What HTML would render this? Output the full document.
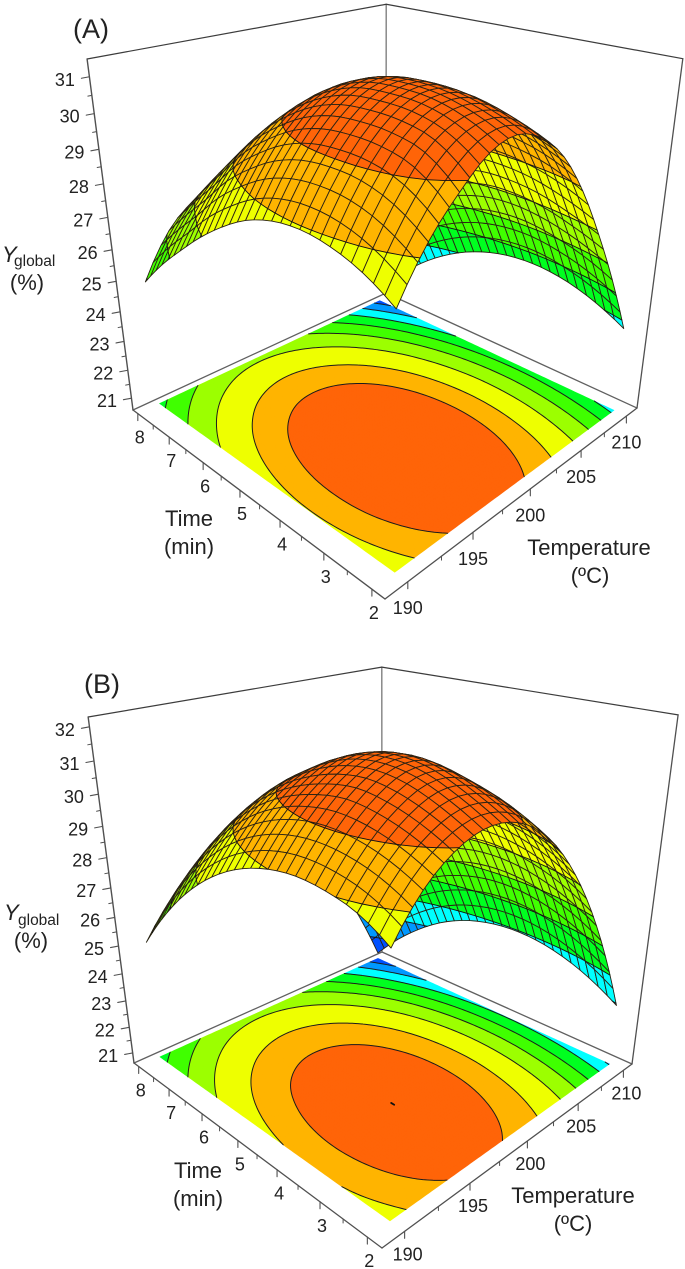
<!DOCTYPE html>
<html>
<head>
<meta charset="utf-8">
<title>Response surfaces of Yglobal versus time and temperature</title>
<style>
html,body{margin:0;padding:0;background:#fff;}
svg{display:block;}
text{font-family:"Liberation Sans",sans-serif;fill:#222;}
.axis-title{font-size:22px;}
.panel-letter{font-size:27px;}
.tick-label{font-size:18px;}
</style>
</head>
<body>
<svg id="chart" xmlns="http://www.w3.org/2000/svg" width="685" height="1269" viewBox="0 0 685 1269">
  <rect width="685" height="1269" fill="#fff"/>
  <g id="panel-a"></g>
  <g id="panel-b"></g>

  <text class="panel-letter" x="91" y="38" text-anchor="middle">(A)</text>
  <text class="axis-title" x="2" y="262" font-style="italic">Y</text>
  <text x="14" y="266" font-size="15.5">global</text>
  <text class="axis-title" x="27" y="290" text-anchor="middle">(%)</text>
  <text class="axis-title" x="189" y="526" text-anchor="middle">Time</text>
  <text class="axis-title" x="189" y="554" text-anchor="middle">(min)</text>
  <text class="axis-title" x="589" y="555" text-anchor="middle">Temperature</text>
  <text class="axis-title" x="590" y="583" text-anchor="middle">(ºC)</text>

  <text class="panel-letter" x="102" y="693" text-anchor="middle">(B)</text>
  <text class="axis-title" x="4" y="920" font-style="italic">Y</text>
  <text x="18" y="925" font-size="15.5">global</text>
  <text class="axis-title" x="31" y="948" text-anchor="middle">(%)</text>
  <text class="axis-title" x="198" y="1178" text-anchor="middle">Time</text>
  <text class="axis-title" x="198" y="1206" text-anchor="middle">(min)</text>
  <text class="axis-title" x="573" y="1203" text-anchor="middle">Temperature</text>
  <text class="axis-title" x="573" y="1231" text-anchor="middle">(ºC)</text>
</svg>
<script>
// Data
const timeValues = [2, 2.6, 3.2, 3.8, 4.4, 5, 5.6, 6.2, 6.8, 7.4, 8];
const temperatureValues = [190, 192, 194, 196, 198, 200, 202, 204, 206, 208, 210];

// rows: time, columns: temperature. Heights of the mesh in panel A.
const surfaceGridA = [
  [27.80, 29.04, 29.90, 30.55, 30.75, 30.45, 29.75, 28.60, 27.10, 25.40, 23.45],
  [28.30, 29.60, 30.55, 31.02, 31.10, 30.80, 30.10, 29.00, 27.45, 25.82, 23.93],
  [28.58, 29.88, 30.77, 31.25, 31.32, 31.02, 30.32, 29.22, 27.72, 26.10, 24.25],
  [28.68, 29.94, 30.81, 31.29, 31.39, 31.08, 30.39, 29.32, 27.84, 26.26, 24.41],
  [28.58, 29.85, 30.73, 31.23, 31.33, 31.03, 30.35, 29.28, 27.83, 26.25, 24.41],
  [28.29, 29.57, 30.46, 30.96, 31.07, 30.79, 30.12, 29.06, 27.61, 26.08, 24.25],
  [27.80, 29.10, 30.00, 30.50, 30.62, 30.35, 29.69, 28.65, 27.25, 25.75, 23.93],
  [27.19, 28.50, 29.40, 29.85, 29.97, 29.72, 29.07, 28.02, 26.76, 25.26, 23.45],
  [26.47, 27.70, 28.60, 29.05, 29.15, 28.89, 28.24, 27.27, 26.10, 24.62, 22.81],
  [25.70, 26.95, 27.75, 28.15, 28.20, 27.87, 27.28, 26.44, 25.29, 23.81, 22.01],
  [24.80, 26.15, 26.85, 27.20, 27.20, 26.90, 26.29, 25.46, 24.31, 22.84, 21.05]
];
// Values behind the contour map on the floor of panel A.
const floorGridA = [
  [27.75, 28.76, 29.45, 29.82, 29.87, 29.60, 29.01, 28.10, 26.87, 25.32, 23.45],
  [28.15, 29.17, 29.87, 30.24, 30.30, 30.04, 29.46, 28.56, 27.33, 25.79, 23.93],
  [28.39, 29.42, 30.12, 30.51, 30.57, 30.32, 29.75, 28.85, 27.64, 26.10, 24.25],
  [28.47, 29.50, 30.22, 30.61, 30.69, 30.44, 29.87, 28.99, 27.78, 26.26, 24.41],
  [28.39, 29.43, 30.15, 30.56, 30.64, 30.40, 29.84, 28.96, 27.77, 26.25, 24.41],
  [28.15, 29.20, 29.93, 30.34, 30.43, 30.20, 29.65, 28.78, 27.59, 26.08, 24.25],
  [27.75, 28.81, 29.55, 29.96, 30.06, 29.84, 29.30, 28.44, 27.25, 25.75, 23.93],
  [27.19, 28.26, 29.00, 29.43, 29.53, 29.32, 28.79, 27.93, 26.76, 25.26, 23.45],
  [26.47, 27.54, 28.30, 28.73, 28.85, 28.64, 28.11, 27.27, 26.10, 24.62, 22.81],
  [25.59, 26.67, 27.43, 27.88, 28.00, 27.80, 27.28, 26.44, 25.29, 23.81, 22.01],
  [24.55, 25.64, 26.41, 26.86, 26.99, 26.80, 26.29, 25.46, 24.31, 22.84, 21.05]
];
// Panel B: mesh and floor map share one table.
const yieldGridB = [
  [28.60, 29.71, 30.36, 30.66, 30.60, 30.19, 29.43, 28.31, 26.85, 25.03, 22.85],
  [29.12, 30.14, 30.81, 31.15, 31.10, 30.69, 29.95, 28.85, 27.40, 25.60, 23.44],
  [29.35, 30.39, 31.10, 31.51, 31.48, 31.01, 30.29, 29.20, 27.77, 25.99, 23.85],
  [29.42, 30.47, 31.23, 31.65, 31.65, 31.20, 30.45, 29.39, 27.97, 26.21, 24.08],
  [29.30, 30.37, 31.11, 31.58, 31.59, 31.16, 30.44, 29.39, 28.00, 26.25, 24.14],
  [29.01, 30.10, 30.84, 31.28, 31.31, 30.93, 30.26, 29.23, 27.85, 26.12, 24.03],
  [28.55, 29.66, 30.42, 30.81, 30.86, 30.56, 29.91, 28.90, 27.53, 25.82, 23.75],
  [27.91, 29.04, 29.81, 30.23, 30.29, 30.01, 29.38, 28.38, 27.04, 25.34, 23.29],
  [27.10, 28.24, 29.03, 29.46, 29.55, 29.28, 28.66, 27.69, 26.36, 24.68, 22.64],
  [26.11, 27.27, 28.08, 28.53, 28.63, 28.38, 27.78, 26.82, 25.51, 23.85, 21.83],
  [24.95, 26.13, 26.96, 27.42, 27.54, 27.31, 26.73, 25.79, 24.49, 22.85, 20.85]
];

const surfaceLevelsA = [21.6, 22.7, 23.8, 24.9, 26.05, 27.25, 28.75, 30.1];
const floorLevelsA = [21.6, 22.7, 23.8, 24.9, 26.05, 27.25, 28.5, 29.45];
const contourLevelsB = [21.75, 22.95, 24.2, 25.45, 26.65, 27.9, 29.3, 30.43];

const timeTickLabels = [2, 3, 4, 5, 6, 7, 8];
const timeMinorTicks = [2.5, 3.5, 4.5, 5.5, 6.5, 7.5];
const temperatureTickLabels = [190, 195, 200, 205, 210];
const temperatureMinorTicks = [192.5, 197.5, 202.5, 207.5];
const yTickLabelsA = [21, 22, 23, 24, 25, 26, 27, 28, 29, 30, 31];
const yTickLabelsB = [21, 22, 23, 24, 25, 26, 27, 28, 29, 30, 31, 32];

// Palette and geometry
const bandPalette = ['#0050ff', '#0098ff', '#00ffff', '#00ff20', '#40ff00', '#9cff00', '#eeff00', '#ffb400', '#ff6408'];

const frameA = {
  front: [385, 599], left: [133, 410], back: [386, 293], right: [637, 408],
  topLeftY: 59, vanish: [384.5, 2333],
  uRange: [0.04, 0.975], vRange: [0.07, 0.945], zRange: [20.57, 31.47],
  tempLabelDx: 0, tempLabelDy: 32.5, showOptimum: false
};
const frameB = {
  front: [382, 1248], left: [134, 1063], back: [382, 952], right: [632, 1064],
  topLeftY: 717, vanish: [383.5, 2946],
  uRange: [0.045, 0.975], vRange: [0.07, 0.955], zRange: [20.6, 32.28],
  tempLabelDx: 3, tempLabelDy: 29, showOptimum: true
};

const SVGNS = 'http://www.w3.org/2000/svg';
const MESH = 30;
const FLOOR_RES = 90;

function pathEl(parent, d, fill, stroke, width, name) {
  const el = document.createElementNS(SVGNS, 'path');
  el.setAttribute('d', d);
  el.setAttribute('fill', fill);
  el.setAttribute('stroke', stroke);
  el.setAttribute('stroke-width', width);
  el.setAttribute('stroke-linejoin', 'round');
  el.setAttribute('stroke-linecap', 'round');
  
  
  parent.appendChild(el);
  return el;
}

function tickText(parent, x, y, label, anchor, name) {
  const el = document.createElementNS(SVGNS, 'text');
  el.setAttribute('x', x);
  el.setAttribute('y', y);
  el.setAttribute('text-anchor', anchor);
  el.setAttribute('class', 'tick-label');
  
  
  el.textContent = label;
  parent.appendChild(el);
}

function makeProjection(frame) {
  const x0 = frame.front[0], y0 = frame.front[1];
  const x1 = frame.left[0], y1 = frame.left[1];
  const x2 = frame.back[0], y2 = frame.back[1];
  const x3 = frame.right[0], y3 = frame.right[1];
  const sx = x0 - x1 + x2 - x3, sy = y0 - y1 + y2 - y3;
  const dx1 = x1 - x2, dx2 = x3 - x2, dy1 = y1 - y2, dy2 = y3 - y2;
  const den = dx1 * dy2 - dx2 * dy1;
  const g = (sx * dy2 - dx2 * sy) / den;
  const h = (dx1 * sy - sx * dy1) / den;
  const a = x1 - x0 + g * x1, b = x3 - x0 + h * x3;
  const d = y1 - y0 + g * y1, e = y3 - y0 + h * y3;
  const vx = frame.vanish[0], vy = frame.vanish[1];
  const k = (1 + g) * (frame.topLeftY - y1) / (vy - frame.topLeftY);
  return function (u, v, w) {
    const W = g * u + h * v + 1 + w * k;
    return [
      (a * u + b * v + x0 + w * k * vx) / W,
      (d * u + e * v + y0 + w * k * vy) / W
    ];
  };
}

function cr(p0, p1, p2, p3, t) {
  return 0.5 * (2 * p1 + (p2 - p0) * t + (2 * p0 - 5 * p1 + 4 * p2 - p3) * t * t + (3 * p1 - p0 - 3 * p2 + p3) * t * t * t);
}
function curveAt(arr, f) {
  const n = arr.length;
  const i = Math.min(n - 2, Math.max(0, Math.floor(f)));
  const t = f - i;
  const get = function (k) {
    if (k < 0) return 3 * arr[0] - 3 * arr[1] + arr[2];
    if (k >= n) return 3 * arr[n - 1] - 3 * arr[n - 2] + arr[n - 3];
    return arr[k];
  };
  return cr(get(i - 1), get(i), get(i + 1), get(i + 2), t);
}
function surfaceAt(grid, fi, fj) {
  const col = grid.map(function (row) { return curveAt(row, fj); });
  return curveAt(col, fi);
}

function clipPoly(poly, level, above) {
  const out = [];
  for (let i = 0; i < poly.length; i++) {
    const a = poly[i], b = poly[(i + 1) % poly.length];
    const ain = above ? a.z >= level : a.z <= level;
    const bin = above ? b.z >= level : b.z <= level;
    if (ain) out.push(a);
    if (ain !== bin) {
      const t = (level - a.z) / (b.z - a.z);
      out.push({ x: a.x + (b.x - a.x) * t, y: a.y + (b.y - a.y) * t, z: level });
    }
  }
  return out;
}
function polyD(poly) {
  let d = '';
  for (let i = 0; i < poly.length; i++) {
    d += (i ? 'L' : 'M') + poly[i].x.toFixed(2) + ' ' + poly[i].y.toFixed(2);
  }
  return d + 'Z';
}
function bandPiece(poly, lo, hi) {
  let p = poly;
  if (lo !== null) p = clipPoly(p, lo, true);
  if (p.length && hi !== null) p = clipPoly(p, hi, false);
  return p;
}
function contourD(poly, level) {
  const pts = [];
  for (let i = 0; i < poly.length; i++) {
    const a = poly[i], b = poly[(i + 1) % poly.length];
    if ((a.z < level) !== (b.z < level)) {
      const t = (level - a.z) / (b.z - a.z);
      pts.push([a.x + (b.x - a.x) * t, a.y + (b.y - a.y) * t]);
    }
  }
  let d = '';
  for (let i = 0; i + 1 < pts.length; i += 2) {
    d += 'M' + pts[i][0].toFixed(2) + ' ' + pts[i][1].toFixed(2) + 'L' + pts[i + 1][0].toFixed(2) + ' ' + pts[i + 1][1].toFixed(2);
  }
  return d;
}

function drawPanel(root, frame, surfaceGrid, surfaceLevels, floorGrid, floorLevels, palette, yTicks) {
  const project = makeProjection(frame);
  const tMin = timeValues[0], tMax = timeValues[timeValues.length - 1];
  const cMin = temperatureValues[0], cMax = temperatureValues[temperatureValues.length - 1];
  const uOfTime = function (t) { return frame.uRange[0] + (t - tMin) / (tMax - tMin) * (frame.uRange[1] - frame.uRange[0]); };
  const vOfTemp = function (c) { return frame.vRange[0] + (c - cMin) / (cMax - cMin) * (frame.vRange[1] - frame.vRange[0]); };
  const wOfZ = function (z) { return (z - frame.zRange[0]) / (frame.zRange[1] - frame.zRange[0]); };
  const indexToTime = function (f) { return tMin + f * (tMax - tMin) / (timeValues.length - 1); };
  const indexToTemp = function (f) { return cMin + f * (cMax - cMin) / (temperatureValues.length - 1); };
  const nI = timeValues.length - 1, nJ = temperatureValues.length - 1;

  // box
  const fmt = function (p) { return p[0].toFixed(2) + ' ' + p[1].toFixed(2); };
  const pFL = project(1, 0, 0), pFF = project(0, 0, 0), pFR = project(0, 1, 0), pFB = project(1, 1, 0);
  const pTL = project(1, 0, 1), pTR = project(0, 1, 1), pTB = project(1, 1, 1);
  pathEl(root, 'M' + fmt(pFB) + 'L' + fmt(pTB), 'none', '#808080', 1.4, 'back-vertical-edge');
  pathEl(root, 'M' + fmt(pTL) + 'L' + fmt(pTB) + 'L' + fmt(pTR), 'none', '#3c3c3c', 1.2, 'top-frame-edges');
  pathEl(root, 'M' + fmt(pFL) + 'L' + fmt(pTL), 'none', '#505050', 1.4, 'y-axis-line');
  pathEl(root, 'M' + fmt(pFR) + 'L' + fmt(pTR), 'none', '#505050', 1.3, 'right-vertical-edge');
  pathEl(root, 'M' + fmt(pFL) + 'L' + fmt(pFB) + 'L' + fmt(pFR), 'none', '#606060', 1.3, 'floor-back-edges');
  pathEl(root, 'M' + fmt(pFL) + 'L' + fmt(pFF), 'none', '#505050', 1.3, 'time-axis-line');
  pathEl(root, 'M' + fmt(pFF) + 'L' + fmt(pFR), 'none', '#505050', 1.3, 'temperature-axis-line');

  // y ticks
  const yMinorTicks = yTicks.map(function (z) { return z + 0.5; }).filter(function (z) { return z < frame.zRange[1]; });
  yTicks.forEach(function (z) {
    const p = project(1, 0, wOfZ(z));
    pathEl(root, 'M' + fmt(p) + 'L' + (p[0] - 8) + ' ' + (p[1] + 1.5), 'none', '#505050', 1.1, 'y-tick-major');
    tickText(root, (p[0] - 14.5).toFixed(1), (p[1] + 9).toFixed(1), String(z), 'end', 'y-tick-label');
  });
  yMinorTicks.forEach(function (z) {
    const p = project(1, 0, wOfZ(z));
    pathEl(root, 'M' + fmt(p) + 'L' + (p[0] - 4) + ' ' + (p[1] + 0.8), 'none', '#505050', 1, 'y-tick-minor');
  });
  // time ticks
  timeTickLabels.forEach(function (t) {
    const p = project(uOfTime(t), 0, 0);
    pathEl(root, 'M' + fmt(p) + 'L' + p[0] + ' ' + (p[1] + 7), 'none', '#505050', 1.1, 'time-tick-major');
    tickText(root, (p[0] + 2).toFixed(1), (p[1] + 30).toFixed(1), String(t), 'middle', 'time-tick-label');
  });
  timeMinorTicks.forEach(function (t) {
    const p = project(uOfTime(t), 0, 0);
    pathEl(root, 'M' + fmt(p) + 'L' + p[0] + ' ' + (p[1] + 4), 'none', '#505050', 1, 'time-tick-minor');
  });
  // temperature ticks
  temperatureTickLabels.forEach(function (c) {
    const p = project(0, vOfTemp(c), 0);
    pathEl(root, 'M' + fmt(p) + 'L' + p[0] + ' ' + (p[1] + 7), 'none', '#505050', 1.1, 'temperature-tick-major');
    tickText(root, (p[0] + frame.tempLabelDx).toFixed(1), (p[1] + frame.tempLabelDy).toFixed(1), String(c), 'middle', 'temperature-tick-label');
  });
  temperatureMinorTicks.forEach(function (c) {
    const p = project(0, vOfTemp(c), 0);
    pathEl(root, 'M' + fmt(p) + 'L' + p[0] + ' ' + (p[1] + 4), 'none', '#505050', 1, 'temperature-tick-minor');
  });

  // floor contour map
  const bandPaths = palette.map(function () { return ''; });
  let floorLines = '';
  const floorNode = function (a, b) {
    const fi = a / FLOOR_RES * nI, fj = b / FLOOR_RES * nJ;
    const p = project(uOfTime(indexToTime(fi)), vOfTemp(indexToTemp(fj)), 0);
    return { x: p[0], y: p[1], z: surfaceAt(floorGrid, fi, fj) };
  };
  const floorNodes = [];
  let optimum = null;
  for (let a = 0; a <= FLOOR_RES; a++) {
    floorNodes.push([]);
    for (let b = 0; b <= FLOOR_RES; b++) {
      const n = floorNode(a, b);
      floorNodes[a].push(n);
      if (!optimum || n.z > optimum.z) optimum = n;
    }
  }
  for (let a = 0; a < FLOOR_RES; a++) {
    for (let b = 0; b < FLOOR_RES; b++) {
      const q = [floorNodes[a][b], floorNodes[a + 1][b], floorNodes[a + 1][b + 1], floorNodes[a][b + 1]];
      for (let k = 0; k < palette.length; k++) {
        const lo = k === 0 ? null : floorLevels[k - 1];
        const hi = k === floorLevels.length ? null : floorLevels[k];
        const piece = bandPiece(q, lo, hi);
        if (piece.length > 2) bandPaths[k] += polyD(piece);
      }
      floorLevels.forEach(function (L) { floorLines += contourD(q, L); });
    }
  }
  bandPaths.forEach(function (d, k) {
    if (d) pathEl(root, d, palette[k], palette[k], 0.6, 'floor-contour-band');
  });
  pathEl(root, floorLines, 'none', '#1c1c1c', 1, 'floor-contour-lines');
  if (frame.showOptimum) {
    const dot = 'M' + (optimum.x - 1.5).toFixed(2) + ' ' + (optimum.y - 0.9).toFixed(2) + 'L' + (optimum.x + 1.5).toFixed(2) + ' ' + (optimum.y + 0.9).toFixed(2);
    pathEl(root, dot, 'none', '#111', 1.8, 'floor-optimum-contour');
  }

  // surface, drawn from far corner to near corner
  const nodes = [];
  for (let a = 0; a <= MESH; a++) {
    nodes.push([]);
    for (let b = 0; b <= MESH; b++) {
      const fi = a / MESH * nI, fj = b / MESH * nJ;
      const z = surfaceAt(surfaceGrid, fi, fj);
      const p = project(uOfTime(indexToTime(fi)), vOfTemp(indexToTemp(fj)), wOfZ(z));
      nodes[a].push({ x: p[0], y: p[1], z: z });
    }
  }
  for (let a = MESH - 1; a >= 0; a--) {
    for (let b = MESH - 1; b >= 0; b--) {
      const q = [nodes[a][b], nodes[a + 1][b], nodes[a + 1][b + 1], nodes[a][b + 1]];
      for (let k = 0; k < palette.length; k++) {
        const lo = k === 0 ? null : surfaceLevels[k - 1];
        const hi = k === surfaceLevels.length ? null : surfaceLevels[k];
        const piece = bandPiece(q, lo, hi);
        if (piece.length > 2) pathEl(root, polyD(piece), palette[k], palette[k], 0.4, 'surface-cell-fill');
      }
      pathEl(root, polyD(q), 'none', '#2a2214', 0.9, 'surface-mesh-cell');
      let lines = '';
      surfaceLevels.forEach(function (L) { lines += contourD(q, L); });
      if (lines) pathEl(root, lines, 'none', '#111', 0.9, 'surface-contour-segment');
    }
  }
}

drawPanel(document.getElementById('panel-a'), frameA, surfaceGridA, surfaceLevelsA, floorGridA, floorLevelsA, bandPalette, yTickLabelsA);
drawPanel(document.getElementById('panel-b'), frameB, yieldGridB, contourLevelsB, yieldGridB, contourLevelsB, bandPalette, yTickLabelsB);
</script>
</body>
</html>
